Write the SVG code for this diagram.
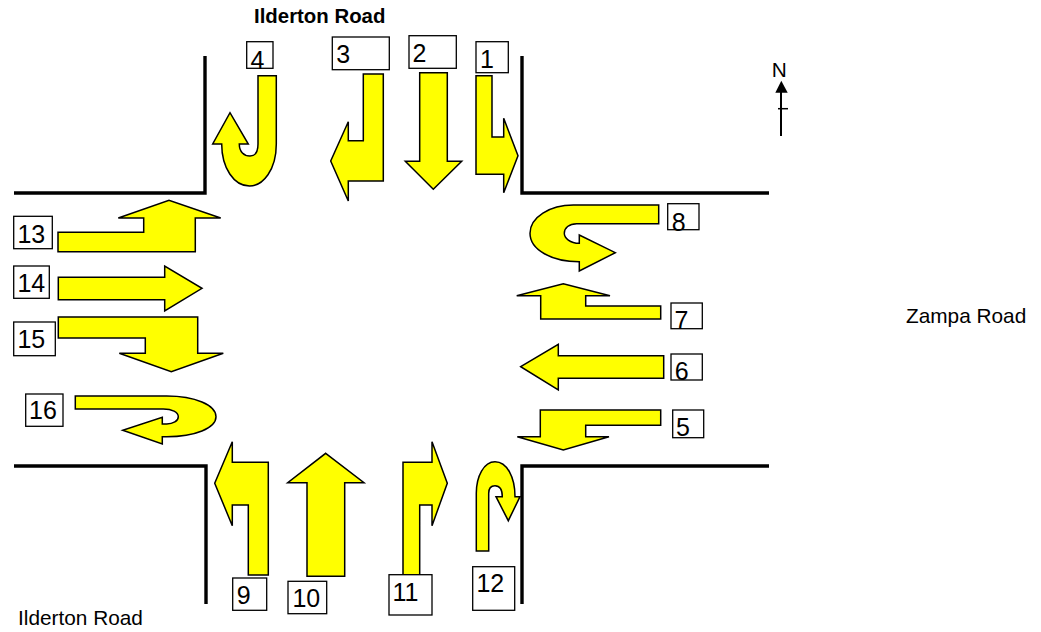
<svg xmlns="http://www.w3.org/2000/svg" width="1041" height="632" viewBox="0 0 1041 632">
<style>
.a{fill:#ffff00;stroke:#000;stroke-width:1.5;stroke-linejoin:miter}
.b{fill:#fff;stroke:#000;stroke-width:1.3}
.r{fill:none;stroke:#000;stroke-width:3.4}
.n{font-family:"Liberation Sans",Arial,sans-serif;font-size:25px;fill:#000}
.t{font-family:"Liberation Sans",Arial,sans-serif;font-size:20.8px;fill:#000}
</style>
<rect width="1041" height="632" fill="#fff"/>
<g id="roads">
<path class="r" d="M205 56V193H14M522 56V193H769M14 466H206V604M522 604V466H769"/>
</g>
<g id="connectors">
<g id="north-arrow">
<path d="M781 136V90" fill="none" stroke="#000" stroke-width="2"/>
<path d="M778 108.7H788" fill="none" stroke="#000" stroke-width="1.5"/>
<path d="M781.3 80.7L787.7 92.7H775.3Z" fill="#000"/>
</g>
</g>
<g id="node1"><path class="a" d="M476 75.7H492V137H503.7V118.3L518 155.7L503.7 192.7V174.3H476Z"/><rect class="b" x="476" y="41.7" width="32.3" height="31"/><text class="n" x="480" y="68.3">1</text></g>
<g id="node2"><path class="a" d="M419.7 72.7H447.3V161.3H461.7L433.3 189.3L405.3 161.3H419.7Z"/><rect class="b" x="409" y="35.7" width="47.3" height="32.6"/><text class="n" x="412.6" y="61.7">2</text></g>
<g id="node3"><path class="a" d="M363.3 74H383.3V181H348.3V201L330.7 161L348.3 121.7V140.7H363.3Z"/><rect class="b" x="332.3" y="37" width="57" height="32.7"/><text class="n" x="336.3" y="62.7">3</text></g>
<g id="node4"><path class="a" d="M258 75.7H276.3V144C276.3 170 263 186 249.5 186C234 186 221.7 168 221.7 144H212.7L230 112.7L248.3 144H239.3C239.3 152 244 156 250 156C255 156 258 152 258 144Z"/><rect class="b" x="246.7" y="41.7" width="26.3" height="26.6"/><text class="n" x="250.5" y="68.7">4</text></g>
<g id="node5"><path class="a" d="M540.3 410H660.7V425.3H585.7V436.7H609L563.3 450L517.3 436.7H540.3Z"/><rect class="b" x="672.7" y="410" width="31" height="27.7"/><text class="n" x="676" y="436">5</text></g>
<g id="node6"><path class="a" d="M520.7 366.7L558.3 344.3V355.7H663.7V378.3H558.3V390Z"/><rect class="b" x="671" y="354" width="31.3" height="26"/><text class="n" x="674.7" y="380">6</text></g>
<g id="node7"><path class="a" d="M516.7 295.7L563.3 283.7L610 295.7H585.7V306H660.7V319H540.7V295.7Z"/><rect class="b" x="671" y="303" width="31.3" height="25.7"/><text class="n" x="674.5" y="329">7</text></g>
<g id="node8"><path class="a" d="M658.7 205V223.7H576.7C569 223.7 564.3 228 564.3 233.3C564.3 238 570 243.3 579.3 243.3V235L615.3 252.7L579.3 271V261.7C552 261.7 530 250 530 233.3C530 217 550 205 573.3 205Z"/><rect class="b" x="667.7" y="203.7" width="31.3" height="26"/><text class="n" x="671.7" y="230.7">8</text></g>
<g id="node9"><path class="a" d="M232.3 441.7V462.3H268.3V575H248.3V505H232.3V525.7L214.7 483.3Z"/><rect class="b" x="232.7" y="578" width="34" height="32.3"/><text class="n" x="236.7" y="604">9</text></g>
<g id="node10"><path class="a" d="M325.7 453.3L364 482.7H344.7V576.3H307V482.7H287.7Z"/><rect class="b" x="288" y="581.3" width="38.7" height="32.4"/><text class="n" x="292.4" y="607">10</text></g>
<g id="node11"><path class="a" d="M403 462.3H432V441.7L447.3 483.3L432 525.7V505H419.7V575H403Z"/><rect class="b" x="389" y="574.7" width="43" height="40.3"/><text class="n" x="392.4" y="600.7">11</text></g>
<g id="node12"><path class="a" d="M476.3 551H488.7V493.3C488.7 488 491 485.7 495 485.7C500 485.7 502.3 490 502.3 496.7H496L508.3 520.7L520 496.7H515C515 477 507 461.7 495 461.7C484 461.7 476.3 476 476.3 493.3Z"/><rect class="b" x="472.7" y="566.7" width="42" height="43.6"/><text class="n" x="476.4" y="592">12</text></g>
<g id="node13"><path class="a" d="M58 232.3H143.7V218H118.3L169 200.3L220.7 218H195.3V251.7H58Z"/><rect class="b" x="13.7" y="216.3" width="38.6" height="32.4"/><text class="n" x="17.4" y="242.7">13</text></g>
<g id="node14"><path class="a" d="M58.3 277.3H164.7V266L202 288.3L164.7 311V299.7H58.3Z"/><rect class="b" x="13.7" y="266" width="35.6" height="32.3"/><text class="n" x="17.4" y="291.7">14</text></g>
<g id="node15"><path class="a" d="M58.3 317H197.7V353.3H223.3L171.3 371.7L119.3 353.3H145.3V338H58.3Z"/><rect class="b" x="13.7" y="322" width="41.6" height="33.7"/><text class="n" x="17.4" y="347.7">15</text></g>
<g id="node16"><path class="a" d="M75.3 396H166.7C195 396 216 405 216 416.7C216 428 195 436.7 166.7 436.7H162.3V444L122.7 430.3L162.3 417.3V424H166.7C173 424 178.3 421 178.3 416.7C178.3 412 172 409 163.3 409H75.3Z"/><rect class="b" x="25.7" y="394" width="37.3" height="32.3"/><text class="n" x="29" y="419.3">16</text></g>
<text class="t" x="254" y="22.7" font-weight="bold" style="font-size:20.4px">Ilderton Road</text>
<text class="t" x="906" y="323">Zampa Road</text>
<text class="t" x="18" y="625">Ilderton Road</text>
<text class="t" x="771.7" y="76.7">N</text>
</svg>
